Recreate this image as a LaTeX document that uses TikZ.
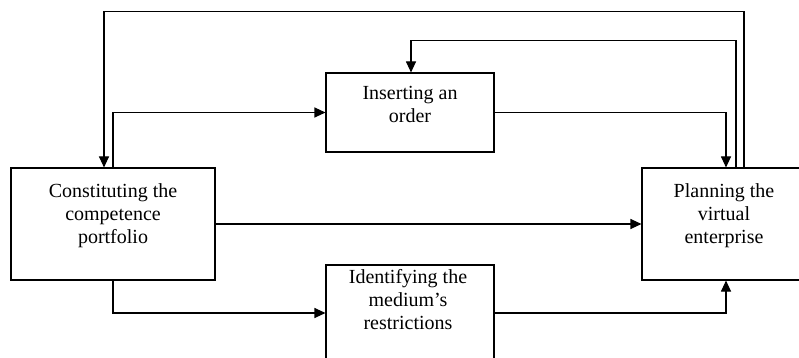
\documentclass[tikz,border=0pt]{standalone}
\usepackage{fontspec}
\setmainfont{Liberation Serif}
\usetikzlibrary{arrows.meta}

\begin{document}
\begin{tikzpicture}[x=1pt, y=-1pt,
		box/.style={draw, line width=1.1pt, inner sep=0pt},
		txt/.style={anchor=north, inner sep=0pt, align=center, font=\fontsize{20}{23}\selectfont},
		link/.style={line width=1.1pt, -{Triangle[length=11pt,width=10pt]}}]
			\useasboundingbox (0,0) rectangle (799,358);
			% boxes
			\node[box, minimum width=204pt, minimum height=112pt] (cp) at (113,224) {};
			\node[box, minimum width=168pt, minimum height=79pt] (io) at (410,112.5) {};
			\node[box, minimum width=168pt, minimum height=96pt] (mr) at (410,313) {};
			\node[box, minimum width=162pt, minimum height=112pt] (ve) at (723,224) {};
			% texts
			\node[txt] (cptxt) at (113,183.3) {Constituting the\\competence\\portfolio};
			\node[txt] (iotxt) at (410,86.3) {Inserting an\\order};
			\node[txt] (mrtxt) at (408,269.3) {Identifying the\\medium’s\\restrictions};
			\node[txt] (vetxt) at (724,183.3) {Planning the\\virtual\\enterprise};
			% connectors
			\draw[link] ([xshift=21pt]ve.north) -- ++(0,-156) -| ([xshift=-9pt]cp.north);
			\draw[link] ([xshift=13pt]ve.north) -- ++(0,-127) -| ([xshift=1pt]io.north);
			\draw[link] (cp.north) |- (io.west);
			\draw[link] (io.east) -| ([xshift=3pt]ve.north);
			\draw[link] (cp.east) -- (ve.west);
			\draw[link] (cp.south) |- (mr.west);
			\draw[link] (mr.east) -| ([xshift=3pt]ve.south);
		\end{tikzpicture}
\end{document}
